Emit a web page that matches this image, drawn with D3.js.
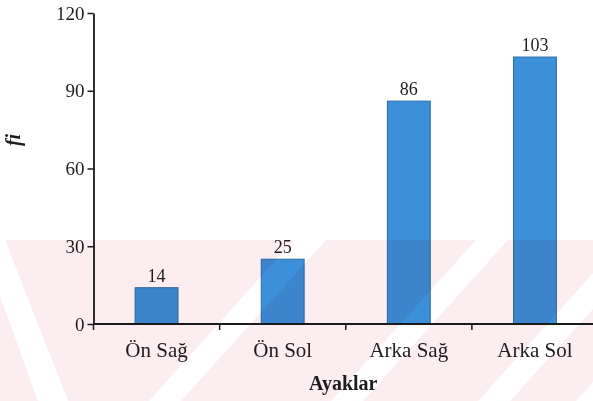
<!DOCTYPE html>
<html>
<head>
<meta charset="utf-8">
<script src="https://cdn.jsdelivr.net/npm/d3@7"></script>
<style>
  html, body { margin: 0; padding: 0; background: #fff; }
  svg { display: block; }
  text { font-family: "Liberation Serif", "Times New Roman", serif; fill: #1e1e1e; }
</style>
</head>
<body>
<svg id="chart" width="593" height="401"></svg>
<script>
// Frequency of observations per foot
const categories = ["Ön Sağ", "Ön Sol", "Arka Sağ", "Arka Sol"];
const frequencies = [14, 25, 86, 103];
const yTickValues = [0, 30, 60, 90, 120];
const xTitle = "Ayaklar";
const yTitle = "fi";

const svg = d3.select("#chart");
const W = 593, H = 401;
const plot = { left: 93.5, right: 598, top: 13, bottom: 324 };

const x = d3.scaleBand()
  .domain(categories)
  .range([plot.left, plot.right])
  .paddingInner(0.66)
  .paddingOuter(0.33);

const y = d3.scaleLinear()
  .domain([0, 120])
  .range([plot.bottom, plot.top]);

const ink = "#1a1a1a";

// Bars
svg.append("g")
  .selectAll("rect")
  .data(categories)
  .join("rect")
  .attr("x", d => x(d))
  .attr("y", (d, i) => y(frequencies[i]))
  .attr("width", x.bandwidth())
  .attr("height", (d, i) => y(0) - y(frequencies[i]))
  .attr("fill", "#3c8fd9")
  .attr("stroke", "#2d6aa8")
  .attr("stroke-width", 1);

// Value labels above bars
svg.append("g")
  .selectAll("text")
  .data(categories)
  .join("text")
  .attr("x", d => x(d) + x.bandwidth() / 2)
  .attr("y", (d, i) => y(frequencies[i]) - 6)
  .attr("text-anchor", "middle")
  .style("font-size", "18px")
  .text((d, i) => frequencies[i]);

// Y axis
const yAxis = svg.append("g")
  .attr("transform", `translate(${plot.left},0)`)
  .call(d3.axisLeft(y).tickValues(yTickValues).tickSize(6).tickSizeOuter(0).tickPadding(3));
yAxis.select(".domain").attr("stroke", ink).attr("stroke-width", 1.8);
yAxis.selectAll(".tick line").attr("stroke", ink).attr("stroke-width", 1.5);
yAxis.selectAll(".tick text")
  .style("font-family", "'Liberation Serif', serif")
  .style("font-size", "19px")
  .attr("fill", ink);

// X axis labels
const xAxis = svg.append("g")
  .attr("transform", `translate(0,${plot.bottom})`)
  .call(d3.axisBottom(x).tickSize(0).tickPadding(18));
xAxis.select(".domain").remove();
xAxis.selectAll(".tick text")
  .style("font-family", "'Liberation Serif', serif")
  .style("font-size", "21px")
  .attr("fill", ink);

// X axis line and tick marks between categories
svg.append("line")
  .attr("x1", plot.left).attr("x2", W)
  .attr("y1", plot.bottom).attr("y2", plot.bottom)
  .attr("stroke", ink).attr("stroke-width", 1.8);

const boundaries = categories.map(c => x(c) - x.paddingOuter() * x.step());
svg.append("g")
  .selectAll("line")
  .data(boundaries)
  .join("line")
  .attr("x1", d => d).attr("x2", d => d)
  .attr("y1", plot.bottom).attr("y2", plot.bottom + 6)
  .attr("stroke", ink).attr("stroke-width", 1.5);

// Axis titles
svg.append("text")
  .attr("x", (plot.left + W) / 2)
  .attr("y", 390)
  .attr("text-anchor", "middle")
  .style("font-size", "20px")
  .style("font-weight", "bold")
  .text(xTitle);

svg.append("text")
  .attr("transform", "translate(20,140) rotate(-90)")
  .attr("text-anchor", "middle")
  .style("font-size", "20px")
  .style("font-weight", "bold")
  .style("font-style", "italic")
  .text(yTitle);

// Faint pink page watermark along the bottom, blended over the chart
const wm = svg.append("g").style("mix-blend-mode", "multiply").style("pointer-events", "none");
const bandTop = 240;
wm.append("rect")
  .attr("x", 0).attr("y", bandTop)
  .attr("width", W).attr("height", H - bandTop)
  .attr("fill", "#fcedf0");

const slope = 0.9;        // horizontal shift per pixel of height
const stripeW = 32;
const rise = H - bandTop;
const stripeStarts = [149, 331, 478, 576];
wm.selectAll("path.rising")
  .data(stripeStarts)
  .join("path")
  .attr("class", "rising")
  .attr("fill", "#fff")
  .attr("d", s => `M${s},${H} L${s + stripeW},${H} L${s + stripeW + slope * rise},${bandTop} L${s + slope * rise},${bandTop} Z`);

// Descending stripe at the left edge
wm.append("path")
  .attr("fill", "#fff")
  .attr("d", `M-20,${bandTop} L5,${bandTop} L68,${H} L38,${H} Z`);
</script>
</body>
</html>
